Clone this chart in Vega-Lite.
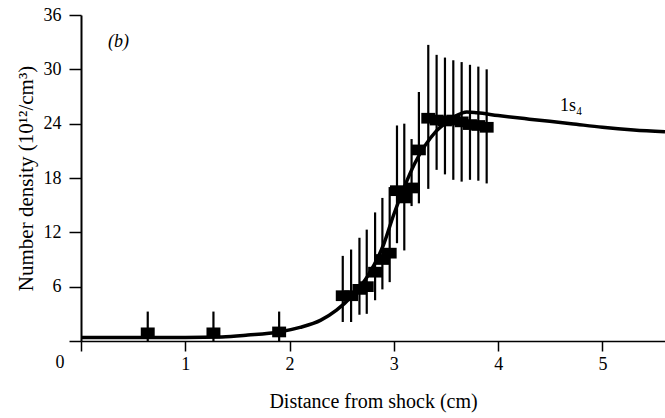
{
  "$schema": "https://vega.github.io/schema/vega-lite/v6.json",
  "autosize": {"type": "none"},
  "padding": {"left": 81, "top": 15, "right": 0, "bottom": 77},
  "width": 584,
  "height": 326,
  "background": "white",
  "config": {
    "view": {"stroke": null},
    "font": "Liberation Serif"
  },
  "datasets": {
    "pts": [
      {"x": 0.64, "y": 0.9, "lo": 0, "hi": 3.25},
      {"x": 1.27, "y": 0.9, "lo": 0, "hi": 3.25},
      {"x": 1.90, "y": 1.0, "lo": 0, "hi": 3.25},
      {"x": 2.51, "y": 5.0, "lo": 2.1, "hi": 9.4},
      {"x": 2.59, "y": 5.0, "lo": 2.1, "hi": 10.1},
      {"x": 2.67, "y": 5.7, "lo": 2.9, "hi": 11.4},
      {"x": 2.74, "y": 6.0, "lo": 3.0, "hi": 12.3},
      {"x": 2.82, "y": 7.6, "lo": 4.5, "hi": 14.2},
      {"x": 2.89, "y": 9.0, "lo": 5.7, "hi": 15.8},
      {"x": 2.96, "y": 9.7, "lo": 6.5, "hi": 17.0},
      {"x": 3.03, "y": 16.6, "lo": 10.8, "hi": 23.8},
      {"x": 3.10, "y": 15.8, "lo": 10.0, "hi": 24.0},
      {"x": 3.17, "y": 16.9, "lo": 14.9, "hi": 22.3},
      {"x": 3.24, "y": 21.1, "lo": 15.2, "hi": 27.5},
      {"x": 3.33, "y": 24.6, "lo": 16.8, "hi": 32.7},
      {"x": 3.41, "y": 24.4, "lo": 18.9, "hi": 31.6},
      {"x": 3.49, "y": 24.3, "lo": 18.4, "hi": 31.3},
      {"x": 3.57, "y": 24.4, "lo": 17.8, "hi": 31.0},
      {"x": 3.65, "y": 24.2, "lo": 17.6, "hi": 30.8},
      {"x": 3.73, "y": 23.9, "lo": 17.8, "hi": 30.5},
      {"x": 3.81, "y": 23.8, "lo": 17.7, "hi": 30.3},
      {"x": 3.89, "y": 23.6, "lo": 17.4, "hi": 30.0}
    ],
    "curve": [
      {"x": 0.0, "y": 0.4},
      {"x": 0.5, "y": 0.4},
      {"x": 1.0, "y": 0.4},
      {"x": 1.35, "y": 0.45},
      {"x": 1.6, "y": 0.65},
      {"x": 1.9, "y": 1.0},
      {"x": 2.1, "y": 1.5},
      {"x": 2.3, "y": 2.3},
      {"x": 2.45, "y": 3.4},
      {"x": 2.6, "y": 5.0},
      {"x": 2.75, "y": 7.2},
      {"x": 2.9, "y": 10.6},
      {"x": 3.0, "y": 14.0},
      {"x": 3.1, "y": 17.0},
      {"x": 3.2, "y": 19.6},
      {"x": 3.3, "y": 21.6},
      {"x": 3.4, "y": 23.1},
      {"x": 3.5, "y": 24.1},
      {"x": 3.6, "y": 24.9},
      {"x": 3.7, "y": 25.3},
      {"x": 3.8, "y": 25.2},
      {"x": 4.0, "y": 24.9},
      {"x": 4.3, "y": 24.5},
      {"x": 4.7, "y": 24.0},
      {"x": 5.0, "y": 23.6},
      {"x": 5.3, "y": 23.3},
      {"x": 5.6, "y": 23.1}
    ],
    "panel": [{"x": 0.36, "y": 33.0, "t": "(b)"}],
    "species": [{"x": 4.7, "y": 25.9, "t": "1s₄"}],
    "origin": [{"x": 0, "y": 0, "t": "0"}]
  },
  "layer": [
    {
      "data": {"name": "pts"},
      "mark": {"type": "rule", "color": "black", "strokeWidth": 2.2},
      "encoding": {
        "x": {"field": "x", "type": "quantitative",
          "scale": {"domain": [0, 5.6], "nice": false, "zero": false},
          "axis": {
            "values": [0, 1, 2, 3, 4, 5],
            "format": "d",
            "labelExpr": "datum.value == 0 ? '' : datum.label",
            "grid": false,
            "domainColor": "black", "domainWidth": 1.5,
            "tickColor": "black", "tickWidth": 1.5, "tickSize": 10,
            "labelFont": "Liberation Serif", "labelFontSize": 18, "labelColor": "black",
            "labelPadding": 4,
            "title": "Distance from shock (cm)",
            "titleFont": "Liberation Serif", "titleFontSize": 20, "titleFontWeight": "normal",
            "titleColor": "black", "titlePadding": 18
          }
        },
        "y": {"field": "lo", "type": "quantitative",
          "scale": {"domain": [0, 36], "nice": false},
          "axis": {
            "values": [0, 6, 12, 18, 24, 30, 36],
            "format": "d",
            "labelExpr": "datum.value == 0 ? '' : datum.label",
            "grid": false,
            "domainColor": "black", "domainWidth": 2,
            "tickColor": "black", "tickWidth": 1.5, "tickSize": 12,
            "labelFont": "Liberation Serif", "labelFontSize": 18, "labelColor": "black",
            "labelPadding": 8,
            "title": "Number density (10¹²/cm³)",
            "titleFont": "Liberation Serif", "titleFontSize": 21, "titleFontWeight": "normal",
            "titleColor": "black", "titlePadding": 7
          }
        },
        "y2": {"field": "hi"}
      }
    },
    {
      "data": {"name": "curve"},
      "mark": {"type": "line", "color": "black", "strokeWidth": 3.5, "interpolate": "monotone", "clip": true},
      "encoding": {
        "x": {"field": "x", "type": "quantitative"},
        "y": {"field": "y", "type": "quantitative"}
      }
    },
    {
      "data": {"name": "pts"},
      "mark": {"type": "point", "shape": "M-1.3,-1H1.3V1H-1.3Z", "size": 115, "filled": true, "color": "black", "opacity": 1},
      "encoding": {
        "x": {"field": "x", "type": "quantitative"},
        "y": {"field": "y", "type": "quantitative"}
      }
    },
    {
      "data": {"name": "panel"},
      "mark": {"type": "text", "font": "Liberation Serif", "fontSize": 18, "fontStyle": "italic", "color": "black", "align": "center", "baseline": "middle"},
      "encoding": {
        "x": {"field": "x", "type": "quantitative"},
        "y": {"field": "y", "type": "quantitative"},
        "text": {"field": "t"}
      }
    },
    {
      "data": {"name": "species"},
      "mark": {"type": "text", "font": "Liberation Serif", "fontSize": 18, "color": "black", "align": "center", "baseline": "middle"},
      "encoding": {
        "x": {"field": "x", "type": "quantitative"},
        "y": {"field": "y", "type": "quantitative"},
        "text": {"field": "t"}
      }
    },
    {
      "data": {"name": "origin"},
      "mark": {"type": "text", "font": "Liberation Serif", "fontSize": 18, "color": "black", "align": "center", "baseline": "middle", "dx": -21, "dy": 22},
      "encoding": {
        "x": {"field": "x", "type": "quantitative"},
        "y": {"field": "y", "type": "quantitative"},
        "text": {"field": "t"}
      }
    }
  ]
}
